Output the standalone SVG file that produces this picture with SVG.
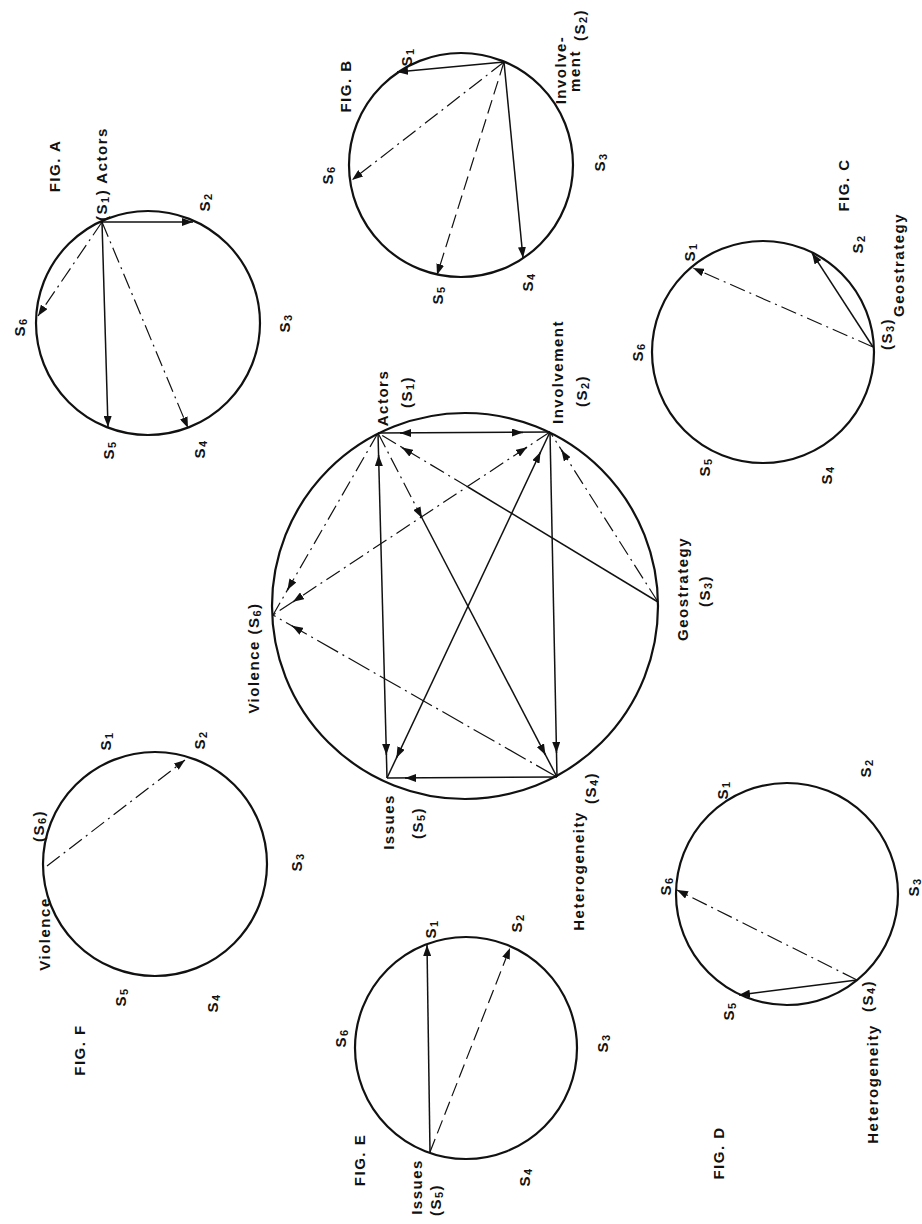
<svg xmlns="http://www.w3.org/2000/svg" width="922" height="1224" viewBox="0 0 922 1224">
<defs>
<marker id="ah" viewBox="0 0 11 8" refX="11" refY="4" markerWidth="11" markerHeight="8" orient="auto" markerUnits="userSpaceOnUse">
<path d="M0,0 L11,4 L0,8 z" fill="#111" stroke="none"/>
</marker>
</defs>
<style>
.circ{fill:none;stroke:#111;stroke-width:2.2}
.ln{fill:none;stroke:#111;stroke-width:1.5}
.dd{stroke-dasharray:16 5 2 5;stroke-width:1.2}
.ld{stroke-dasharray:14 6;stroke-width:1.2}
.lbl{font-family:"Liberation Sans",Arial,sans-serif;font-weight:bold;font-size:15px;letter-spacing:1.5px;fill:#111}
.sub{font-size:11px}
</style>
<rect width="922" height="1224" fill="#fff"/>

<!-- MAIN FIGURE -->
<g id="main">
<circle class="circ" cx="465" cy="606" r="193"/>
<g id="main-connectors">
<path class="ln" d="M378 433 L550 432"/>
<path class="ln" d="M378 433 L387 778"/>
<path class="ln" d="M550 432 L557 777"/>
<path class="ln" d="M557 777 L387 778"/>
<path class="ln dd" d="M378 433 L422 518"/>
<path class="ln" d="M422 518 L557 777"/>
<path class="ln" d="M387 778 L550 432"/>
<path class="ln" d="M658 602 L468 487"/>
<path class="ln dd" d="M468 487 L378 433"/>
<path class="ln dd" d="M658 602 L550 432"/>
<path class="ln dd" d="M378 433 L273 615"/>
<path class="ln dd" d="M550 432 L273 615"/>
<path class="ln" style="stroke-dasharray:24 5 2 5;stroke-width:1.2" d="M557 777 L273 615"/>
<path class="ln" d="M515 432.5 L523 432.5" marker-end="url(#ah)"/>
<path class="ln" d="M408 433 L400 433" marker-end="url(#ah)"/>
<path class="ln" d="M386.2 747 L386.4 755" marker-end="url(#ah)"/>
<path class="ln" d="M378.8 463 L378.6 455" marker-end="url(#ah)"/>
<path class="ln" d="M556.3 745 L556.5 753" marker-end="url(#ah)"/>
<path class="ln" d="M413 778 L405 778" marker-end="url(#ah)"/>
<path class="ln" d="M541.8 747.9 L545.5 755" marker-end="url(#ah)"/>
<path class="ln" d="M418.3 510.9 L422 518" marker-end="url(#ah)"/>
<path class="ln" d="M537.1 459.2 L540.5 452" marker-end="url(#ah)"/>
<path class="ln" d="M399.8 750.8 L396.4 758" marker-end="url(#ah)"/>
<path class="ln" d="M408.8 451.6 L402 447.5" marker-end="url(#ah)"/>
<path class="ln" d="M565.7 456.8 L561.4 450" marker-end="url(#ah)"/>
<path class="ln" d="M291.4 583.1 L287.4 590" marker-end="url(#ah)"/>
<path class="ln" d="M299.7 597.4 L293 601.8" marker-end="url(#ah)"/>
<path class="ln" d="M520.3 451.6 L527 447.2" marker-end="url(#ah)"/>
<path class="ln" d="M298.9 629.8 L292 625.8" marker-end="url(#ah)"/>
</g>
<g id="main-s1"><text class="lbl" transform="translate(382 398) rotate(-90)" text-anchor="middle" dominant-baseline="central">Actors</text>
<text class="lbl" transform="translate(406 392) rotate(-90)" text-anchor="middle" dominant-baseline="central">(S<tspan class="sub" dy="4">1</tspan><tspan dy="-4">)</tspan></text></g>
<g id="main-s2"><text class="lbl" transform="translate(557 372) rotate(-90)" text-anchor="middle" dominant-baseline="central">Involvement</text>
<text class="lbl" transform="translate(581 391) rotate(-90)" text-anchor="middle" dominant-baseline="central">(S<tspan class="sub" dy="4">2</tspan><tspan dy="-4">)</tspan></text></g>
<g id="main-s3"><text class="lbl" transform="translate(682 589) rotate(-90)" text-anchor="middle" dominant-baseline="central">Geostrategy</text>
<text class="lbl" transform="translate(704 591) rotate(-90)" text-anchor="middle" dominant-baseline="central">(S<tspan class="sub" dy="4">3</tspan><tspan dy="-4">)</tspan></text></g>
<g id="main-s4"><text class="lbl" transform="translate(578 871) rotate(-90)" text-anchor="middle" dominant-baseline="central">Heterogeneity</text>
<text class="lbl" transform="translate(590 788) rotate(-90)" text-anchor="middle" dominant-baseline="central">(S<tspan class="sub" dy="4">4</tspan><tspan dy="-4">)</tspan></text></g>
<g id="main-s5"><text class="lbl" transform="translate(388 822) rotate(-90)" text-anchor="middle" dominant-baseline="central">Issues</text>
<text class="lbl" transform="translate(417 823) rotate(-90)" text-anchor="middle" dominant-baseline="central">(S<tspan class="sub" dy="4">5</tspan><tspan dy="-4">)</tspan></text></g>
<g id="main-s6"><text class="lbl" transform="translate(253 658) rotate(-90)" text-anchor="middle" dominant-baseline="central">Violence (S<tspan class="sub" dy="4">6</tspan><tspan dy="-4">)</tspan></text></g>
</g>

<!-- FIG A -->
<g id="figA">
<circle class="circ" cx="148" cy="323" r="112"/>
<g id="figA-connectors">
<path class="ln" d="M102 222 L193 222" marker-end="url(#ah)"/>
<path class="ln" d="M102 222 L108 427" marker-end="url(#ah)"/>
<path class="ln dd" d="M102 222 L188 428" marker-end="url(#ah)"/>
<path class="ln dd" d="M102 222 L38 316" marker-end="url(#ah)"/>
</g>
<text class="lbl" transform="translate(54 166) rotate(-90)" text-anchor="middle" dominant-baseline="central">FIG. A</text>
<text class="lbl" transform="translate(101 174) rotate(-90)" text-anchor="middle" dominant-baseline="central">(S<tspan class="sub" dy="4">1</tspan><tspan dy="-4">) Actors</tspan></text>
<text class="lbl" transform="translate(204 202) rotate(-90)" text-anchor="middle" dominant-baseline="central">S<tspan class="sub" dy="4">2</tspan></text>
<text class="lbl" transform="translate(284 323) rotate(-90)" text-anchor="middle" dominant-baseline="central">S<tspan class="sub" dy="4">3</tspan></text>
<text class="lbl" transform="translate(199 449) rotate(-90)" text-anchor="middle" dominant-baseline="central">S<tspan class="sub" dy="4">4</tspan></text>
<text class="lbl" transform="translate(108 450) rotate(-90)" text-anchor="middle" dominant-baseline="central">S<tspan class="sub" dy="4">5</tspan></text>
<text class="lbl" transform="translate(19 327) rotate(-90)" text-anchor="middle" dominant-baseline="central">S<tspan class="sub" dy="4">6</tspan></text>
</g>

<!-- FIG B -->
<g id="figB">
<circle class="circ" cx="461" cy="165" r="112"/>
<g id="figB-connectors">
<path class="ln" d="M504 62 L397 72" marker-end="url(#ah)"/>
<path class="ln dd" d="M504 62 L352 180" marker-end="url(#ah)"/>
<path class="ln ld" d="M504 62 L437 275" marker-end="url(#ah)"/>
<path class="ln" d="M504 62 L523 258" marker-end="url(#ah)"/>
</g>
<text class="lbl" transform="translate(345 86) rotate(-90)" text-anchor="middle" dominant-baseline="central">FIG. B</text>
<text class="lbl" transform="translate(406 57) rotate(-90)" text-anchor="middle" dominant-baseline="central">S<tspan class="sub" dy="4">1</tspan></text>
<text class="lbl" transform="translate(579 25) rotate(-90)" text-anchor="middle" dominant-baseline="central">(S<tspan class="sub" dy="4">2</tspan><tspan dy="-4">)</tspan></text>
<text class="lbl" transform="translate(560 70) rotate(-90)" text-anchor="middle" dominant-baseline="central">Involve-</text>
<text class="lbl" transform="translate(574 71) rotate(-90)" text-anchor="middle" dominant-baseline="central">ment</text>
<text class="lbl" transform="translate(599 162) rotate(-90)" text-anchor="middle" dominant-baseline="central">S<tspan class="sub" dy="4">3</tspan></text>
<text class="lbl" transform="translate(527 282) rotate(-90)" text-anchor="middle" dominant-baseline="central">S<tspan class="sub" dy="4">4</tspan></text>
<text class="lbl" transform="translate(437 295) rotate(-90)" text-anchor="middle" dominant-baseline="central">S<tspan class="sub" dy="4">5</tspan></text>
<text class="lbl" transform="translate(327 175) rotate(-90)" text-anchor="middle" dominant-baseline="central">S<tspan class="sub" dy="4">6</tspan></text>
</g>

<!-- FIG C -->
<g id="figC">
<circle class="circ" cx="763" cy="352" r="111"/>
<g id="figC-connectors">
<path class="ln dd" d="M873 347 L693 268" marker-end="url(#ah)"/>
<path class="ln" d="M873 347 L812 253" marker-end="url(#ah)"/>
</g>
<text class="lbl" transform="translate(843 185) rotate(-90)" text-anchor="middle" dominant-baseline="central">FIG. C</text>
<text class="lbl" transform="translate(689 252) rotate(-90)" text-anchor="middle" dominant-baseline="central">S<tspan class="sub" dy="4">1</tspan></text>
<text class="lbl" transform="translate(857 244) rotate(-90)" text-anchor="middle" dominant-baseline="central">S<tspan class="sub" dy="4">2</tspan></text>
<text class="lbl" transform="translate(886 334) rotate(-90)" text-anchor="middle" dominant-baseline="central">(S<tspan class="sub" dy="4">3</tspan><tspan dy="-4">)</tspan></text>
<text class="lbl" transform="translate(898 265) rotate(-90)" text-anchor="middle" dominant-baseline="central">Geostrategy</text>
<text class="lbl" transform="translate(826 475) rotate(-90)" text-anchor="middle" dominant-baseline="central">S<tspan class="sub" dy="4">4</tspan></text>
<text class="lbl" transform="translate(704 467) rotate(-90)" text-anchor="middle" dominant-baseline="central">S<tspan class="sub" dy="4">5</tspan></text>
<text class="lbl" transform="translate(637 352) rotate(-90)" text-anchor="middle" dominant-baseline="central">S<tspan class="sub" dy="4">6</tspan></text>
</g>

<!-- FIG D -->
<g id="figD">
<circle class="circ" cx="787" cy="894" r="111"/>
<g id="figD-connectors">
<path class="ln dd" d="M857 980 L677 890" marker-end="url(#ah)"/>
<path class="ln" d="M857 980 L739 995" marker-end="url(#ah)"/>
</g>
<text class="lbl" transform="translate(718 1153) rotate(-90)" text-anchor="middle" dominant-baseline="central">FIG. D</text>
<text class="lbl" transform="translate(722 790) rotate(-90)" text-anchor="middle" dominant-baseline="central">S<tspan class="sub" dy="4">1</tspan></text>
<text class="lbl" transform="translate(865 768) rotate(-90)" text-anchor="middle" dominant-baseline="central">S<tspan class="sub" dy="4">2</tspan></text>
<text class="lbl" transform="translate(913 887) rotate(-90)" text-anchor="middle" dominant-baseline="central">S<tspan class="sub" dy="4">3</tspan></text>
<text class="lbl" transform="translate(867 996) rotate(-90)" text-anchor="middle" dominant-baseline="central">(S<tspan class="sub" dy="4">4</tspan><tspan dy="-4">)</tspan></text>
<text class="lbl" transform="translate(872 1084) rotate(-90)" text-anchor="middle" dominant-baseline="central">Heterogeneity</text>
<text class="lbl" transform="translate(728 1011) rotate(-90)" text-anchor="middle" dominant-baseline="central">S<tspan class="sub" dy="4">5</tspan></text>
<text class="lbl" transform="translate(665 886) rotate(-90)" text-anchor="middle" dominant-baseline="central">S<tspan class="sub" dy="4">6</tspan></text>
</g>

<!-- FIG E -->
<g id="figE">
<circle class="circ" cx="466" cy="1048" r="111"/>
<g id="figE-connectors">
<path class="ln" d="M430 1152 L427 945" marker-end="url(#ah)"/>
<path class="ln ld" d="M430 1152 L510 948" marker-end="url(#ah)"/>
</g>
<text class="lbl" transform="translate(359 1160) rotate(-90)" text-anchor="middle" dominant-baseline="central">FIG. E</text>
<text class="lbl" transform="translate(430 929) rotate(-90)" text-anchor="middle" dominant-baseline="central">S<tspan class="sub" dy="4">1</tspan></text>
<text class="lbl" transform="translate(516 923) rotate(-90)" text-anchor="middle" dominant-baseline="central">S<tspan class="sub" dy="4">2</tspan></text>
<text class="lbl" transform="translate(602 1043) rotate(-90)" text-anchor="middle" dominant-baseline="central">S<tspan class="sub" dy="4">3</tspan></text>
<text class="lbl" transform="translate(524 1177) rotate(-90)" text-anchor="middle" dominant-baseline="central">S<tspan class="sub" dy="4">4</tspan></text>
<text class="lbl" transform="translate(416 1187) rotate(-90)" text-anchor="middle" dominant-baseline="central">Issues</text>
<text class="lbl" transform="translate(435 1200) rotate(-90)" text-anchor="middle" dominant-baseline="central">(S<tspan class="sub" dy="4">5</tspan><tspan dy="-4">)</tspan></text>
<text class="lbl" transform="translate(340 1038) rotate(-90)" text-anchor="middle" dominant-baseline="central">S<tspan class="sub" dy="4">6</tspan></text>
</g>

<!-- FIG F -->
<g id="figF">
<circle class="circ" cx="155" cy="864" r="112"/>
<g id="figF-connectors">
<path class="ln dd" d="M47 866 L185 760" marker-end="url(#ah)"/>
</g>
<text class="lbl" transform="translate(79 1050) rotate(-90)" text-anchor="middle" dominant-baseline="central">FIG. F</text>
<text class="lbl" transform="translate(105 741) rotate(-90)" text-anchor="middle" dominant-baseline="central">S<tspan class="sub" dy="4">1</tspan></text>
<text class="lbl" transform="translate(199 740) rotate(-90)" text-anchor="middle" dominant-baseline="central">S<tspan class="sub" dy="4">2</tspan></text>
<text class="lbl" transform="translate(296 862) rotate(-90)" text-anchor="middle" dominant-baseline="central">S<tspan class="sub" dy="4">3</tspan></text>
<text class="lbl" transform="translate(212 1003) rotate(-90)" text-anchor="middle" dominant-baseline="central">S<tspan class="sub" dy="4">4</tspan></text>
<text class="lbl" transform="translate(120 997) rotate(-90)" text-anchor="middle" dominant-baseline="central">S<tspan class="sub" dy="4">5</tspan></text>
<text class="lbl" transform="translate(38 826) rotate(-90)" text-anchor="middle" dominant-baseline="central">(S<tspan class="sub" dy="4">6</tspan><tspan dy="-4">)</tspan></text>
<text class="lbl" transform="translate(44 934) rotate(-90)" text-anchor="middle" dominant-baseline="central">Violence</text>
</g>
</svg>
